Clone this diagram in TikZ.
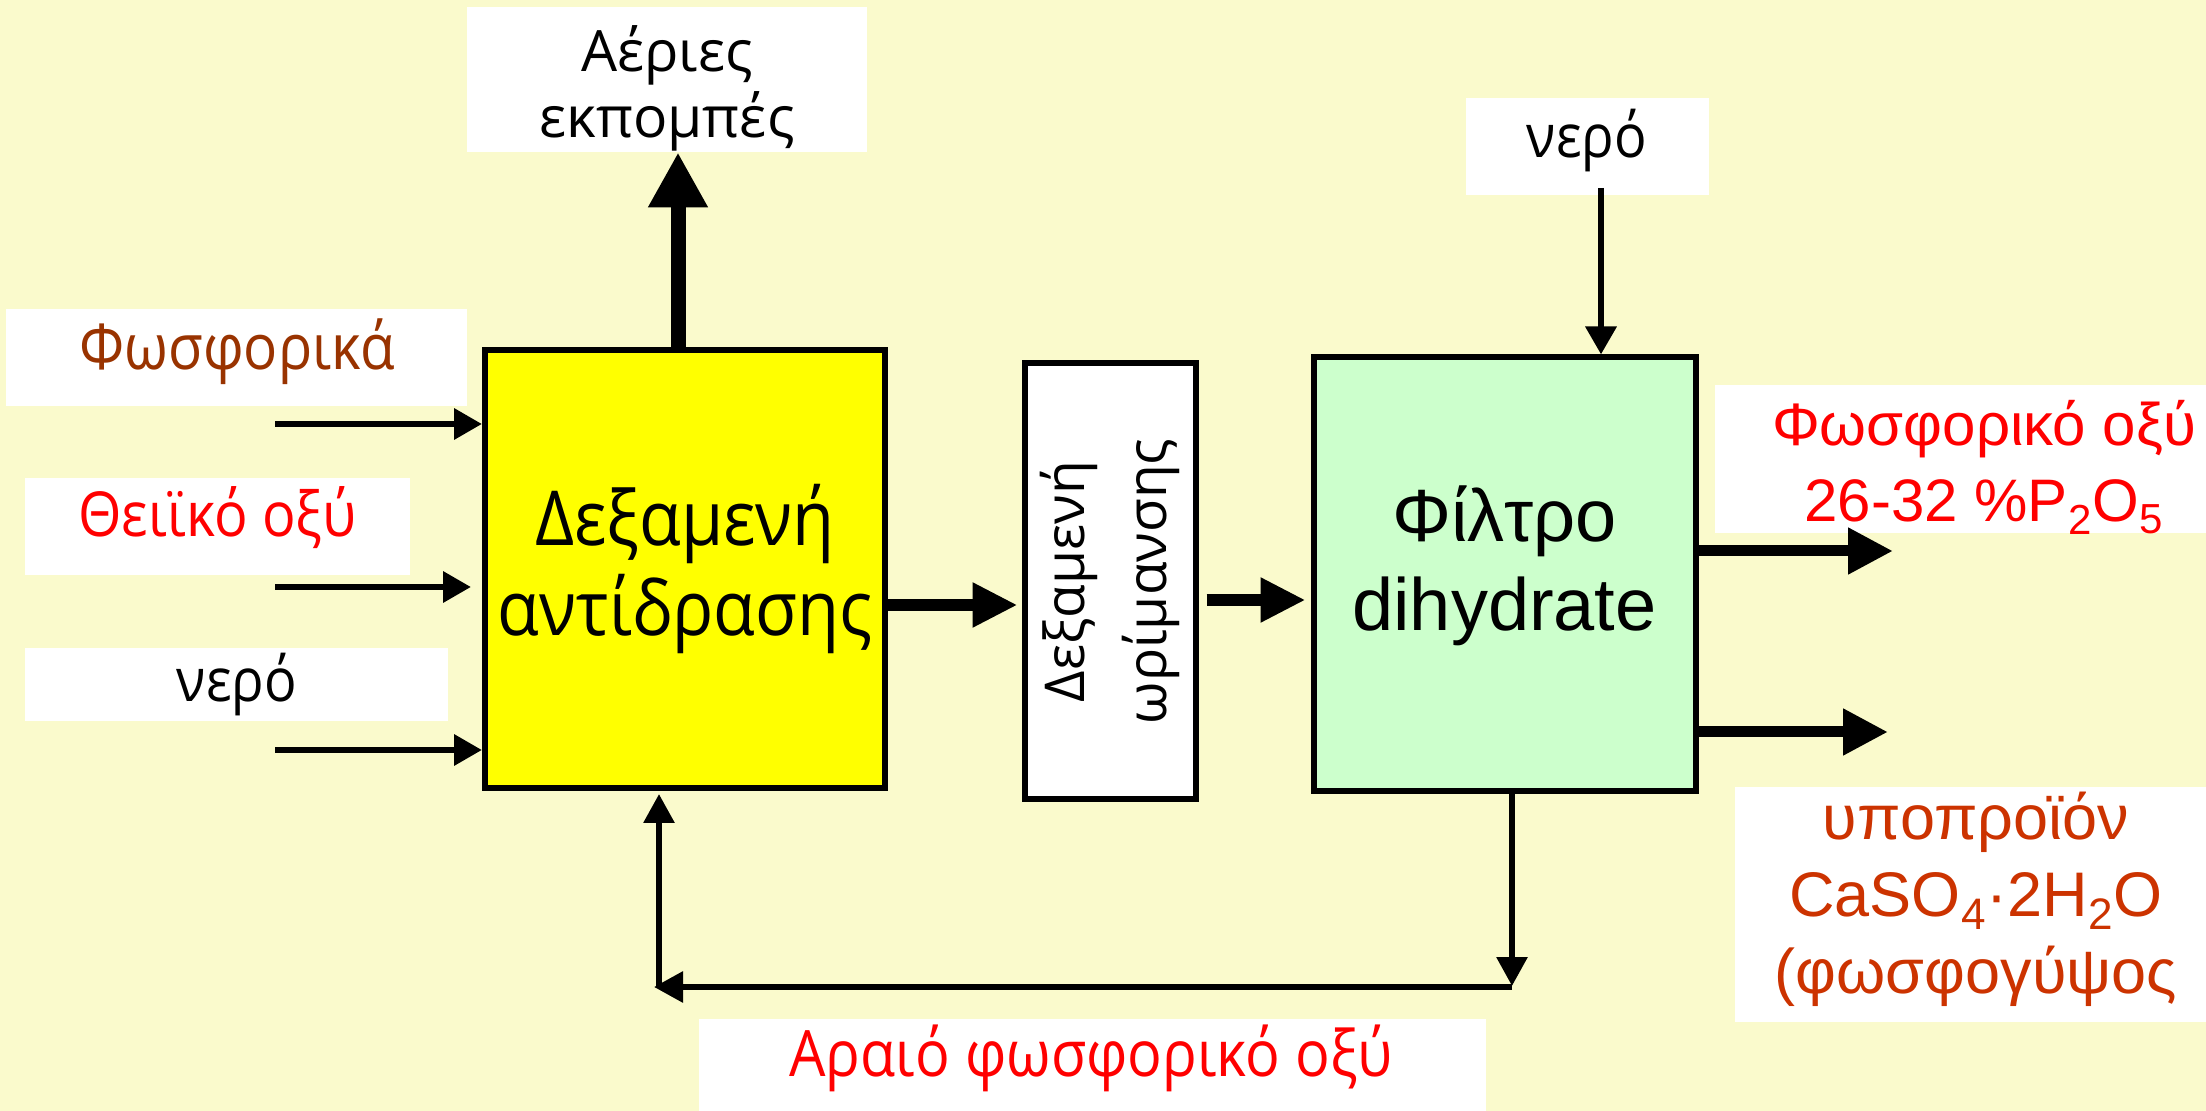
\documentclass[tikz,border=0pt]{standalone}
\usepackage{fontspec}
\setmainfont{Open Sans}
\newfontfamily\osn[FakeStretch=0.9]{Open Sans}
\newfontfamily\arialf{Liberation Sans}
\usetikzlibrary{arrows.meta,calc}
\definecolor{bg}{RGB}{250,250,204}
\definecolor{brn}{RGB}{153,51,0}
\definecolor{org}{RGB}{204,51,0}
\definecolor{grn}{RGB}{204,255,204}
\definecolor{yel}{RGB}{255,255,0}
\definecolor{rd}{RGB}{255,0,0}
\begin{document}
\begin{tikzpicture}[x=0.5pt,y=-0.5pt,
  wbox/.style={fill=white, inner sep=0pt},
  tank/.style={draw=black, line width=3pt, inner sep=0pt, align=center},
  lbl/.style={inner sep=0pt, align=center, anchor=base},
  inarrow/.style={line width=3.25pt, -{Triangle[length=14pt,width=15pt]}},
  bigarrow/.style={line width=6pt, -{Triangle[length=22.5pt,width=21pt]}},
  outarrow/.style={line width=5.5pt, -{Triangle[length=22.5pt,width=22pt]}},
  looparrow/.style={line width=3pt, -{Triangle[length=14.5pt,width=15pt]}},
  gasarrow/.style={line width=7.5pt, -{Triangle[length=27.5pt,width=28pt]}},
]
\fill[bg] (0,0) rectangle (2206,1111);
\useasboundingbox (0,0) rectangle (2206,1111);

% white label boxes
\node[wbox, minimum width=230.5pt, minimum height=48.5pt] (phosB) at (236.5,357.5) {};
\node[wbox, minimum width=192.5pt, minimum height=48.5pt] (theioB) at (217.5,526.5) {};
\node[wbox, minimum width=211.5pt, minimum height=36.5pt] (neroaB) at (236.5,684.5) {};
\node[wbox, minimum width=200pt, minimum height=72.5pt] (aeriaB) at (667,79.5) {};
\node[wbox, minimum width=121.5pt, minimum height=48.5pt] (nerobB) at (1587.5,146.5) {};
\node[wbox, minimum width=245.5pt, minimum height=74pt] (prodB) at (1960.5,459) {};
\node[wbox, minimum width=235.5pt, minimum height=117.5pt] (gypsB) at (1970.5,904.5) {};
\node[wbox, minimum width=393.5pt, minimum height=50pt] (araiB) at (1092.5,1069) {};

% label texts
\node[lbl, text=brn, font=\osn\fontsize{31.5}{37}\selectfont] (phos) at (237,370) {Φωσφορικά};
\node[lbl, text=rd, font=\osn\fontsize{31}{37}\selectfont] (theio) at (217.5,537) {Θειϊκό οξύ};
\node[lbl, text=black, font=\osn\fontsize{30}{37}\selectfont] (neroa) at (237,702) {νερό};
\node[lbl, text=black, font=\fontsize{28.5}{33}\selectfont] (aeria) at (667,138) {Αέριες\\εκπομπές};
\node[lbl, text=black, font=\osn\fontsize{30}{37}\selectfont] (nerob) at (1587,158) {νερό};
\node[lbl, text=rd, font=\arialf\fontsize{30}{38}\selectfont] (prod) at (1984,522) {Φωσφορικό οξύ\\26-32 \%P\textsubscript{2}O\textsubscript{5}};
\node[lbl, text=org, font=\arialf\fontsize{31.5}{38.5}\selectfont] (gyps) at (1976,993) {υποπροϊόν\\CaSO\textsubscript{4}·2H\textsubscript{2}O\\(φωσφογύψος};
\node[lbl, text=rd, font=\osn\fontsize{32}{36}\selectfont] (arai) at (1091,1076) {Αραιό φωσφορικό οξύ};

% tanks
\node[tank, fill=yel, minimum width=200pt, minimum height=219pt, font=\osn\fontsize{38}{45}\selectfont] (react) at (685,569) {Δεξαμενή\\αντίδρασης};
\node[tank, fill=white, minimum width=85.5pt, minimum height=218pt] (ripen) at (1110,581.5) {};
\node[rotate=90, inner sep=0pt, align=center, font=\fontsize{27.5}{41}\selectfont] (ripenT) at (ripen.center) {Δεξαμενή\\ωρίμανσης};
\node[tank, fill=grn, minimum width=191pt, minimum height=217pt, font=\arialf\fontsize{37}{44.5}\selectfont] (filter) at (1504.5,574.5) {\raisebox{3pt}[\height][\depth]{\begin{tabular}{@{}c@{}}Φίλτρο\\dihydrate\end{tabular}}};

% inputs
\coordinate (i1) at (275,424);
\coordinate (i2) at (275,587);
\coordinate (i3) at (275,750);
\draw[inarrow] (i1) -- (i1 -| react.west);
\draw[inarrow] (i2) -- ($(i2 -| react.west)+(-11,0)$);
\draw[inarrow] (i3) -- (i3 -| react.west);

% gases
\coordinate (g0) at ($(react.north)+(-7,0)$);
\draw[gasarrow] (g0) -- (g0 |- aeriaB.south);

% process line
\draw[bigarrow] ($(react.east)+(0,36)$) -- ($(react.east -| ripen.west)+(-4,36)$);
\draw[bigarrow] ($(ripen.east)+(8,18.5)$) -- ($(ripen.east -| filter.west)+(-5,18.5)$);

% water to filter
\coordinate (n2) at (1601,188);
\draw[inarrow] (n2) -- (n2 |- filter.north);

% outputs
\coordinate (o1) at (1893,551);
\coordinate (o2) at (1888,732);
\draw[outarrow] (filter.east |- o1) -- (o1);
\draw[outarrow] (filter.east |- o2) -- (o2);

% recycle loop
\coordinate (lr) at (1512,986);
\coordinate (lh) at (1512,987);
\coordinate (ll) at (654,987);
\coordinate (lc) at (659,987);
\draw[looparrow] (filter.south -| lr) -- (lr);
\draw[looparrow] (lh) -- (ll);
\draw[looparrow] (lc) -- ($(lc |- react.south)+(0,3)$);
\end{tikzpicture}
\end{document}
